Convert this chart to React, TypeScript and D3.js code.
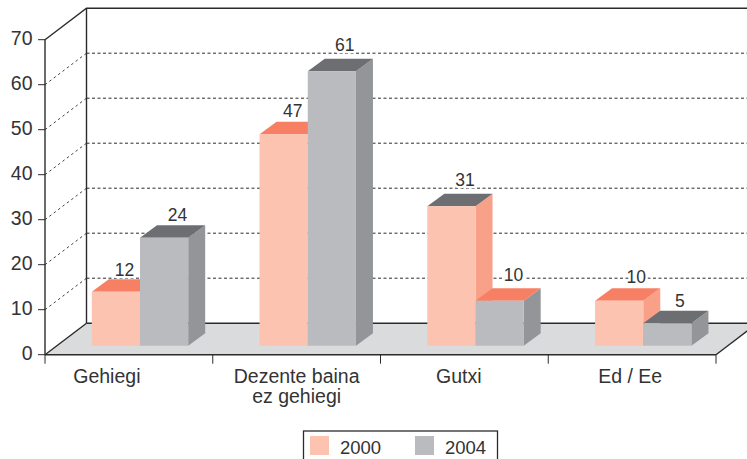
import React from "react";
import * as d3 from "d3";

const categories = ["Gehiegi", "Dezente baina|ez gehiegi", "Gutxi", "Ed / Ee"];
const seriesNames = ["2000", "2004"];
const values2000 = [12, 47, 31, 10];
const values2004 = [24, 61, 10, 5];
const yTicks = [0, 10, 20, 30, 40, 50, 60, 70];
// the source colours the tops of the "Gutxi" pair the other way round
const swappedTopCategories = ["Gutxi"];

const W = 747, H = 459;
const FONT = "'Liberation Sans', Arial, sans-serif";
const INK = "#333335";
const AX = "#2b2b2d";
const palettes = [
  { front: "#FCC4B0", top: "#F77F63", side: "#F9A088" },
  { front: "#B9BBBF", top: "#6D6E72", side: "#939598" },
];
// layout
const depth = { dx: 41.5, dy: -31.5 };
const barDepth = { dx: 17, dy: -12.5 };
const barBaseShift = 9;
const barInset = 46.8;
const barW = 48.2;
const labelNudge = [[0, 3], [5, 4.5], [0.5, 5], [4.5, 8], [5, 8], [5.5, 7.5], [8.5, 5.5], [4, 4]];
const catLabelNudge = [-22, 0, -5.5, -2];

const y = d3.scaleLinear().domain([0, 70]).range([354.7, 39.7]);
const x = d3.scaleBand<string>().domain(categories).range([45, 716]);
const floorPath = d3.path();
floorPath.moveTo(45, y(0));
floorPath.lineTo(716, y(0));
floorPath.lineTo(716 + depth.dx, y(0) + depth.dy);
floorPath.lineTo(45 + depth.dx, y(0) + depth.dy);
floorPath.closePath();

function poly(pts: [number, number][]) {
  return pts.map((p) => p.join(",")).join(" ");
}

export default function App() {
  const series = [values2000, values2004];
  const base = y(0) - barBaseShift;
  const unit = y(0) - y(1);
  const halo = { paintOrder: "stroke" as const, stroke: "#fff", strokeWidth: 4.5, strokeLinejoin: "round" as const };
  return (
    <svg width={W} height={H} style={{ position: "absolute", left: 0, top: 0, background: "#fff" }} fontFamily={FONT}>
      {/* floor */}
      <path d={floorPath.toString()} fill="#DADBDD" />
      {/* gridlines */}
      {yTicks.slice(1, -1).map((t) => (
        <g key={t} stroke={AX} fill="none">
          <line x1={45} y1={y(t)} x2={45 + depth.dx} y2={y(t) + depth.dy} strokeWidth={0.9} strokeDasharray="2.5 3" />
          <line x1={45 + depth.dx} y1={y(t) + depth.dy} x2={W} y2={y(t) + depth.dy} strokeWidth={1} strokeDasharray="3 2.5" />
        </g>
      ))}
      {/* walls and axes */}
      <g stroke={AX} fill="none" strokeWidth={1.4}>
        <polyline points={poly([[45, y(70)], [45 + depth.dx, y(70) + depth.dy], [W, y(70) + depth.dy]])} />
        <line x1={45 + depth.dx} y1={y(70) + depth.dy} x2={45 + depth.dx} y2={y(0) + depth.dy} />
        <line x1={45 + depth.dx} y1={y(0) + depth.dy} x2={W} y2={y(0) + depth.dy} />
        <line x1={45} y1={y(0)} x2={45 + depth.dx} y2={y(0) + depth.dy} />
        <line x1={45} y1={y(70)} x2={45} y2={y(0)} />
        <line x1={45} y1={y(0)} x2={716} y2={y(0)} />
        <line x1={716} y1={y(0)} x2={716 + depth.dx} y2={y(0) + depth.dy} />
        {yTicks.map((t) => (
          <line key={t} x1={38} y1={y(t)} x2={45} y2={y(t)} strokeWidth={1} />
        ))}
        {[...categories.map((c) => x(c)!), 716].map((v) => (
          <line key={v} x1={v} y1={y(0)} x2={v} y2={y(0) + 9} strokeWidth={1} />
        ))}
      </g>
      {/* value labels */}
      {categories.map((c, i) =>
        series.map((vals, s) => {
          const x0 = x(c)! + barInset + s * barW;
          const t = base - vals[i] * unit + barDepth.dy;
          const n = labelNudge[i * 2 + s];
          return (
            <text key={c + s} x={x0 + barW / 2 + barDepth.dx / 2 + n[0]} y={t - n[1]} textAnchor="middle" fontSize={17.5} fill={INK} style={halo}>
              {vals[i]}
            </text>
          );
        })
      )}
      {/* bars */}
      {categories.map((c, i) =>
        series.map((vals, s) => {
          const x0 = x(c)! + barInset + s * barW;
          const x1 = x0 + barW;
          const t = base - vals[i] * unit;
          const { dx, dy } = barDepth;
          const p = palettes[s];
          const topFill = swappedTopCategories.includes(c) ? palettes[1 - s].top : p.top;
          return (
            <g key={c + s}>
              <polygon points={poly([[x1, base], [x1 + dx, base + dy], [x1 + dx, t + dy], [x1, t]])} fill={p.side} />
              <polygon points={poly([[x0, t], [x0 + dx, t + dy], [x1 + dx, t + dy], [x1, t]])} fill={topFill} />
              <rect x={x0} y={t} width={barW} height={base - t} fill={p.front} />
            </g>
          );
        })
      )}
      {/* y tick labels */}
      {yTicks.map((t) => (
        <text key={t} x={32.5} y={y(t) + 5} textAnchor="end" fontSize={19.5} fill={INK}>
          {t}
        </text>
      ))}
      {/* category labels */}
      {categories.map((c, i) =>
        c.split("|").map((line, j) => (
          <text key={line} x={x(c)! + x.bandwidth() / 2 + catLabelNudge[i]} y={383 + j * 20} textAnchor="middle" fontSize={19.5} fill={INK}>
            {line}
          </text>
        ))
      )}
      {/* legend */}
      <rect x={303.5} y={431} width={194} height={40} fill="#fff" stroke={AX} strokeWidth={1.3} />
      {seriesNames.map((n, s) => (
        <g key={n}>
          <rect x={310 + s * 105} y={436} width={19} height={19} fill={palettes[s].front} />
          <text x={340 + s * 105} y={454} fontSize={18.5} fill={INK}>
            {n}
          </text>
        </g>
      ))}
    </svg>
  );
}
